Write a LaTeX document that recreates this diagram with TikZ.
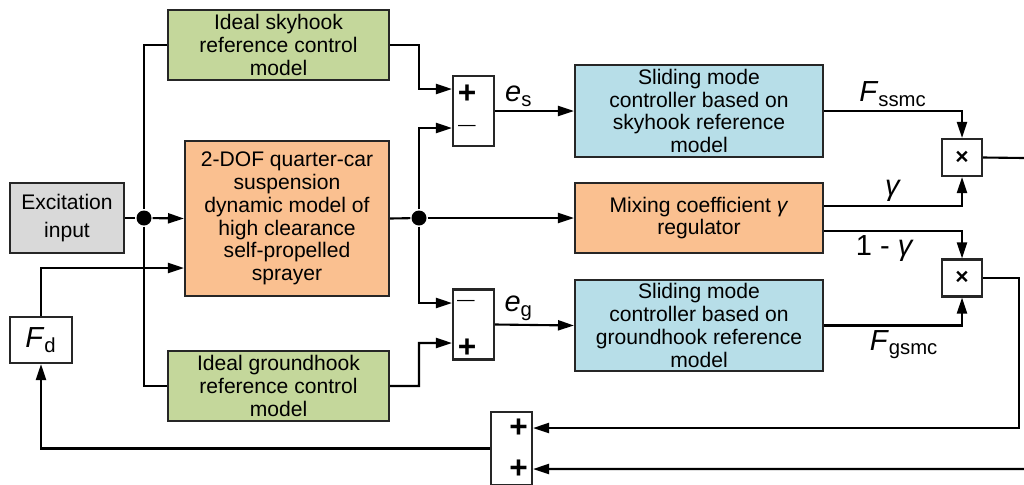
\documentclass[tikz,border=0pt]{standalone}
\usepackage{fontspec}
\setmainfont{Liberation Sans}
\usetikzlibrary{arrows.meta,calc}

\begin{document}
\begin{tikzpicture}[x=0.02cm,y=-0.02cm,line width=1.2pt,>={Triangle[length=0.32cm,width=0.2cm]},block/.style={draw=black!85, line width=1.2pt, align=center, inner sep=1pt, font=\fontsize{12}{13}\selectfont},refbox/.style={block, fill=refgreen, minimum width=4.42cm, minimum height=1.4cm},smcbox/.style={block, fill=smcblue, minimum width=4.96cm, minimum height=1.83cm},sumbox/.style={block, fill=white, minimum width=0.82cm, minimum height=1.4cm},mulbox/.style={block, fill=white, minimum width=0.8cm, minimum height=0.74cm, font=\fontsize{13}{13}\selectfont\bfseries},junction/.style={circle, fill=black, minimum size=0.3cm, inner sep=0pt},sign/.style={inner sep=0pt, font=\fontsize{18}{18}\selectfont\bfseries},minus/.style={inner sep=0pt, font=\fontsize{10}{10}\selectfont},sig/.style={font=\fontsize{16.5}{16.5}\selectfont, inner sep=2pt}]
\definecolor{refgreen}{HTML}{C4D79B}\definecolor{smcblue}{HTML}{B7DEE8}\definecolor{plantorange}{HTML}{FAC090}\definecolor{inputgray}{HTML}{D9D9D9}
\useasboundingbox (0,0) rectangle (1024,484);
% blocks
\node[block, fill=inputgray, minimum width=2.28cm, minimum height=1.4cm, font=\fontsize{12}{15.5}\selectfont] (exc) at (67,218) {Excitation\\input};
\node[refbox] (sky) at (278.5,45) {Ideal skyhook\\reference control\\model};
\node[block, fill=plantorange, minimum width=4.08cm, minimum height=3.1cm] (plant) at (287,218.5) {2-DOF quarter-car\\suspension\\dynamic model of\\high clearance\\self-propelled\\sprayer};
\node[refbox] (ground) at (278.5,386) {Ideal groundhook\\reference control\\model};
\node[block, fill=white, minimum width=1.24cm, minimum height=0.92cm, font=\fontsize{16.5}{16.5}\selectfont] (Fd) at (41,340) {\textit{F}\textsubscript{d}};
\node[sumbox] (sumS) at (473.5,111) {};\node[sumbox] (sumG) at (473.5,324.5) {};\node[sumbox, minimum height=1.46cm] (sumF) at (511.5,448.5) {};
\node[sign] at (467,94) {+};\node[minus] at (467,128) {—};\node[minus] at (466,303) {—};\node[sign] at (467,348) {+};\node[sign] at (518.5,428) {+};\node[sign] at (518.5,469.5) {+};
\node[smcbox] (smcS) at (699,111) {Sliding mode\\controller based on\\skyhook reference\\model};
\node[block, fill=plantorange, minimum width=4.96cm, minimum height=1.4cm] (mix) at (699,218) {Mixing coefficient \textit{γ}\\regulator};
\node[smcbox] (smcG) at (699,325.5) {Sliding mode\\controller based on\\groundhook reference\\model};
\node[mulbox] (mulS) at (962,157.5) {×};\node[mulbox] (mulG) at (962,278) {×};
\node[junction] (jL) at (144,218) {};\node[junction] (jR) at (419,218) {};
\coordinate (outS) at (1024,158);\coordinate (cR) at (1019,428);\coordinate (inF) at (1024,469);
% signal lines
\draw (exc) -- (jL);\draw[->] (jL) -- (plant.west);\draw (sky.west) -| (jL) |- (ground.west);
\draw[->] (sky.east) -| (jR |- 0,89) -- ($(sumS.west)+(0,-22)$);\draw[->] (ground.east) -| (jR |- 0,343) -- ($(sumG.west)+(0,18.5)$);
\draw (plant.east) -- (jR);\draw[->] (jR) -- (mix.west);\draw[->] (jR) |- ($(sumS.west)+(0,17)$);\draw[->] (jR) |- ($(sumG.west)+(0,-21.5)$);
\draw[->] (sumS.east) -- (smcS.west) node[sig, pos=0.3, above] {\textit{e}\textsubscript{s}};\draw[->] (sumG.east) -- (smcG.west) node[sig, pos=0.3, above] {\textit{e}\textsubscript{g}};
\draw[->] (smcS.east) -| (mulS.north) node[sig, pos=0.25, above] {\textit{F}\textsubscript{ssmc}};\draw[->] ($(mix.east)+(0,-12)$) -| (mulS.south) node[sig, pos=0.25, above] {\textit{γ}};
\draw[->] ($(mix.east)+(0,13)$) -| (mulG.north) node[sig, pos=0.22, below] {1 - \textit{γ}};\draw[->] (smcG.east) -| (mulG.south) node[sig, pos=0.29, below] {\textit{F}\textsubscript{gsmc}};
\draw (mulS.east) -- (outS);\draw[->] (mulG.east) -| (cR) -- ($(sumF.east)+(0,-20.5)$);\draw[->] (inF) -- ($(sumF.east)+(0,20.5)$);
\draw[->] (sumF.west) -| (Fd.south);\draw[->] (Fd.north) |- ($(plant.west)+(0,49.5)$);
\end{tikzpicture}
\end{document}
